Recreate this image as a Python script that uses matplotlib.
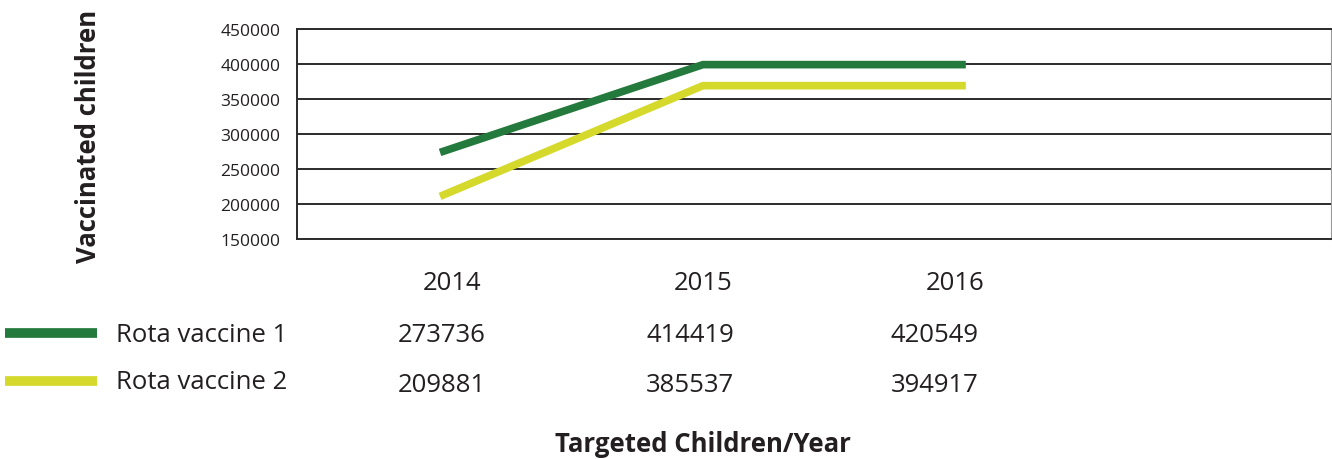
import matplotlib.pyplot as plt

plt.rcParams['font.family'] = ['Open Sans', 'DejaVu Sans']

years = ['2014', '2015', '2016']
series_names = ['Rota vaccine 1', 'Rota vaccine 2']
# values as drawn on the chart
drawn_vaccine1 = [273736, 399000, 399000]
drawn_vaccine2 = [211000, 369000, 369000]
# values printed in the table under the chart
table_vaccine1 = ['273736', '414419', '420549']
table_vaccine2 = ['209881', '385537', '394917']
yticks = [150000, 200000, 250000, 300000, 350000, 400000, 450000]

green = '#247a3c'
yellow = '#d5d92b'
text_col = '#231f20'

fig = plt.figure(figsize=(13.32, 4.6), dpi=100)
ax_box = [0.223, 0.478, 0.776, 0.457]
ax = fig.add_axes(ax_box)

x = list(range(len(years)))
ax.plot(x, drawn_vaccine1, color=green, lw=5.5, solid_capstyle='butt', zorder=3)
ax.plot(x, drawn_vaccine2, color=yellow, lw=5.5, solid_capstyle='butt', zorder=3)

ax.set_xlim(-0.544, 3.388)
ax.set_ylim(yticks[0], yticks[-1])
ax.set_yticks(yticks)
ax.set_yticklabels([str(v) for v in yticks], fontsize=12.5, color=text_col)
ax.tick_params(axis='y', length=0, pad=12)
ax.set_xticks([])
for v in yticks:
    ax.axhline(v, color='#2b2b2b', lw=1.4, zorder=1)
for s in ['left', 'bottom', 'top']:
    ax.spines[s].set_color('#2b2b2b')
    ax.spines[s].set_linewidth(1.4)
ax.spines['right'].set_color('#999999')
ax.spines['right'].set_linewidth(0.8)


# table under the chart (x in data units, y in figure pixels)
def fy(py):
    return (1 - py / 460 - ax_box[1]) / ax_box[3]


tr = ax.get_xaxis_transform()
year_x = [0.046, 1.0, 1.958]
value_x = [0.008, 0.951, 1.882]
for yx, vx, yr, v1, v2 in zip(year_x, value_x, years, table_vaccine1, table_vaccine2):
    ax.text(yx, fy(283), yr, transform=tr, fontsize=18.5, color=text_col,
            ha='center', va='center', clip_on=False)
    ax.text(vx, fy(335), v1, transform=tr, fontsize=18.5, color=text_col,
            ha='center', va='center', clip_on=False)
    ax.text(vx, fy(385), v2, transform=tr, fontsize=18.5, color=text_col,
            ha='center', va='center', clip_on=False)

# legend swatches
for name, col, py in zip(series_names, [green, yellow], [334, 382]):
    fy_fig = 1 - py / 460
    fig.add_artist(plt.Line2D([5 / 1332, 97 / 1332], [fy_fig, fy_fig], color=col, lw=7,
                              solid_capstyle='butt'))
    fig.text(116 / 1332, 1 - (py + 1) / 460, name, fontsize=18.5, color=text_col,
             va='center', ha='left')

fig.text(88 / 1332, 1 - 136 / 460, 'Vaccinated children', rotation=90, fontsize=18.5,
         fontweight='bold', color=text_col, ha='center', va='center')
fig.text(703 / 1332, 1 - 445 / 460, 'Targeted Children/Year', fontsize=18.5,
         fontweight='bold', color=text_col, ha='center', va='center')

fig.savefig('out.png', dpi=100, facecolor='white')
